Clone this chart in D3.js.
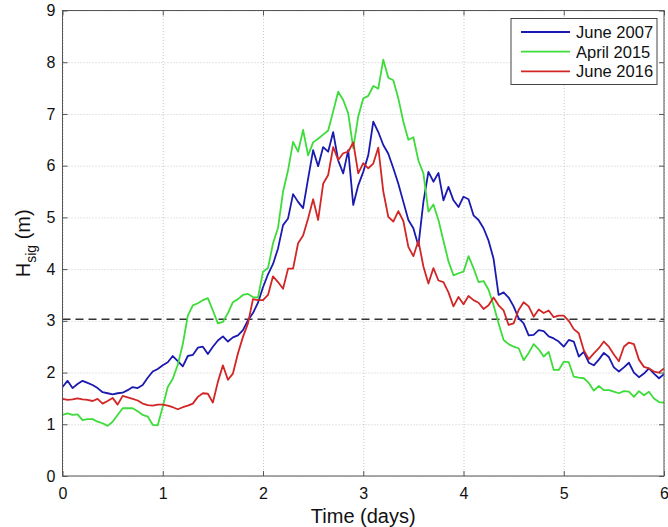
<!DOCTYPE html>
<html>
<head>
<meta charset="utf-8">
<script src="https://cdn.jsdelivr.net/npm/d3@7"></script>
<style type="text/css">
  body{
    background: white;
    margin: 0px;
  }
  svg{
    display: block;
    font-family: Arial, 'Liberation Sans', Helvetica, sans-serif;
  }
  .grid line{
    stroke: #c8c8c8;
    stroke-dasharray: 1,2;
  }
  .grid path{
    stroke: none;
  }
  .axis path{
    stroke: none;
  }
  .axis line{
    stroke: #555;
  }
  .axis text{
    fill: #111;
    font-size: 16px;
  }
</style>
</head>
<body>

<script>

// time in days, one sample every 0.05 day
var days = [
  0.00,0.05,0.10,0.15,0.20,0.25,0.30,0.35,0.40,0.45,0.50,0.55,0.60,0.65,0.70,0.75,0.80,0.85,0.90,0.95,
  1.00,1.05,1.10,1.15,1.20,1.25,1.30,1.35,1.40,1.45,1.50,1.55,1.60,1.65,1.70,1.75,1.80,1.85,1.90,1.95,
  2.00,2.05,2.10,2.15,2.20,2.25,2.30,2.35,2.40,2.45,2.50,2.55,2.60,2.65,2.70,2.75,2.80,2.85,2.90,2.95,
  3.00,3.05,3.10,3.15,3.20,3.25,3.30,3.35,3.40,3.45,3.50,3.55,3.60,3.65,3.70,3.75,3.80,3.85,3.90,3.95,
  4.00,4.05,4.10,4.15,4.20,4.25,4.30,4.35,4.40,4.45,4.50,4.55,4.60,4.65,4.70,4.75,4.80,4.85,4.90,4.95,
  5.00,5.05,5.10,5.15,5.20,5.25,5.30,5.35,5.40,5.45,5.50,5.55,5.60,5.65,5.70,5.75,5.80,5.85,5.90,5.95,
  6.00
];

var june2007 = [
  1.72,1.84,1.70,1.78,1.84,1.80,1.76,1.70,1.62,1.60,1.58,1.60,1.61,1.66,1.72,1.70,1.76,1.90,2.02,2.07,
  2.14,2.20,2.32,2.22,2.12,2.32,2.34,2.48,2.50,2.36,2.50,2.62,2.70,2.60,2.68,2.72,2.82,3.01,3.15,3.35,
  3.65,3.90,4.10,4.40,4.85,4.98,5.45,5.30,5.18,5.75,6.30,5.99,6.36,6.27,6.65,6.10,5.85,6.30,5.24,5.62,
  5.88,6.20,6.85,6.65,6.40,6.23,5.95,5.65,5.30,4.95,4.79,4.45,5.30,5.88,5.69,5.86,5.33,5.59,5.33,5.20,
  5.40,5.35,5.04,4.95,4.79,4.55,4.20,3.50,3.55,3.45,3.28,3.05,2.95,2.72,2.73,2.82,2.80,2.70,2.66,2.60,
  2.50,2.63,2.60,2.31,2.40,2.19,2.14,2.25,2.38,2.30,2.10,2.02,2.10,2.19,2.00,1.91,1.98,2.08,1.98,1.89,
  1.97
];

var april2015 = [
  1.18,1.21,1.18,1.19,1.08,1.10,1.10,1.05,1.02,0.97,1.05,1.18,1.31,1.31,1.31,1.25,1.18,1.15,0.99,0.98,
  1.34,1.72,1.88,2.15,2.55,3.10,3.30,3.34,3.40,3.44,3.20,2.95,2.98,3.15,3.36,3.42,3.50,3.52,3.46,3.45,
  3.95,4.02,4.50,4.80,5.50,5.91,6.46,6.27,6.69,6.20,6.45,6.52,6.60,6.68,7.05,7.43,7.27,7.01,6.34,6.95,
  7.30,7.35,7.54,7.49,8.05,7.70,7.65,7.30,6.85,6.50,6.55,6.10,5.85,5.11,5.25,4.95,4.55,4.15,3.88,3.92,
  3.95,4.25,4.02,3.75,3.77,3.60,3.30,2.95,2.63,2.55,2.50,2.47,2.24,2.38,2.55,2.45,2.31,2.40,2.05,2.05,
  2.21,2.20,1.92,1.90,1.89,1.80,1.65,1.74,1.66,1.66,1.63,1.60,1.64,1.63,1.53,1.64,1.56,1.63,1.50,1.43,
  1.42
];

var june2016 = [
  1.49,1.47,1.48,1.50,1.48,1.47,1.45,1.49,1.40,1.45,1.51,1.38,1.55,1.52,1.49,1.46,1.40,1.37,1.36,1.38,
  1.38,1.36,1.33,1.29,1.33,1.36,1.40,1.53,1.60,1.59,1.42,1.82,2.14,1.86,1.98,2.37,2.69,2.95,3.42,3.40,
  3.40,3.50,3.86,3.75,3.62,4.01,4.01,4.50,4.65,4.98,5.35,4.95,5.65,5.82,6.36,6.11,6.24,6.27,6.45,5.85,
  6.05,5.95,6.04,6.35,5.50,5.01,4.92,5.12,4.93,4.43,4.25,4.55,4.05,3.72,4.02,3.78,3.75,3.55,3.28,3.46,
  3.32,3.48,3.40,3.35,3.23,3.30,3.45,3.30,3.20,2.92,2.95,3.21,3.36,3.28,3.08,3.22,3.15,3.20,3.07,3.10,
  3.10,3.00,2.84,2.76,2.43,2.26,2.37,2.47,2.60,2.50,2.35,2.22,2.50,2.58,2.55,2.25,2.11,2.08,2.02,2.00,
  2.08
];

var threshold = 3.03;

var seriesNames = ['June 2007', 'April 2015', 'June 2016'];
var seriesColors = ['#1a1ab0', '#3ddc3a', '#d22626'];
var seriesValues = [june2007, april2015, june2016];

var xTicks = [0, 1, 2, 3, 4, 5, 6];
var yTicks = [0, 1, 2, 3, 4, 5, 6, 7, 8, 9];


var width = 668;
var height = 527;
var margin = {left: 62.5, right: 4, top: 10.5, bottom: 51};
var w = width - margin.left - margin.right;
var h = height - margin.top - margin.bottom;

var x = d3.scaleLinear().domain([0, 6]).range([0, w]);
var y = d3.scaleLinear().domain([0, 9]).range([h, 0]);

var svg = d3.select('body')
  .append('svg')
  .attr('width', width)
  .attr('height', height);

var g = svg.append('g')
  .attr('transform', 'translate(' + margin.left + ',' + margin.top + ')');

// dotted grid
g.append('g')
  .attr('class', 'grid')
  .attr('transform', 'translate(0,' + h + ')')
  .call(d3.axisBottom(x).tickValues(xTicks).tickSize(-h).tickFormat(''));

g.append('g')
  .attr('class', 'grid')
  .call(d3.axisLeft(y).tickValues(yTicks).tickSize(-w).tickFormat(''));

// threshold
g.append('line')
  .attr('x1', x(0))
  .attr('x2', x(6))
  .attr('y1', y(threshold))
  .attr('y2', y(threshold))
  .attr('stroke', '#333')
  .attr('stroke-width', 1.6)
  .attr('stroke-dasharray', '8,5');

var line = d3.line()
  .x(function(d, i) { return x(days[i]); })
  .y(function(d) { return y(d); });

seriesValues.forEach(function(vals, k) {
  g.append('path')
    .datum(vals)
    .attr('fill', 'none')
    .attr('stroke', seriesColors[k])
    .attr('stroke-width', 1.8)
    .attr('stroke-linejoin', 'round')
    .attr('d', line);
});

// axes, ticks pointing inward like matlab
g.append('g')
  .attr('class', 'axis')
  .attr('transform', 'translate(0,' + h + ')')
  .call(d3.axisBottom(x).tickValues(xTicks).tickSize(-5).tickPadding(12).tickFormat(d3.format('d')));

g.append('g')
  .attr('class', 'axis')
  .call(d3.axisTop(x).tickValues(xTicks).tickSize(-5).tickFormat(''));

g.append('g')
  .attr('class', 'axis')
  .call(d3.axisLeft(y).tickValues(yTicks).tickSize(-5).tickPadding(7).tickFormat(d3.format('d')));

g.append('g')
  .attr('class', 'axis')
  .attr('transform', 'translate(' + w + ',0)')
  .call(d3.axisRight(y).tickValues(yTicks).tickSize(-5).tickFormat(''));

g.append('rect')
  .attr('width', w)
  .attr('height', h)
  .attr('fill', 'none')
  .attr('stroke', '#555')
  .attr('stroke-width', 1);

// axis titles
svg.append('text')
  .attr('x', margin.left + w / 2)
  .attr('y', 523)
  .attr('text-anchor', 'middle')
  .attr('font-size', 20)
  .attr('fill', '#111')
  .text('Time (days)');

var ylab = svg.append('text')
  .attr('transform', 'translate(30,' + (margin.top + h / 2) + ') rotate(-90)')
  .attr('text-anchor', 'middle')
  .attr('font-size', 20)
  .attr('fill', '#111');
ylab.append('tspan').text('H');
ylab.append('tspan').attr('font-size', 14).attr('dy', 6).text('sig');
ylab.append('tspan').attr('dy', -6).text(' (m)');

// legend
var legend = svg.append('g')
  .attr('transform', 'translate(511,18.5)');

legend.append('rect')
  .attr('width', 146)
  .attr('height', 66)
  .attr('fill', 'white')
  .attr('stroke', '#444')
  .attr('stroke-width', 1);

seriesNames.forEach(function(name, k) {
  var ly = 13.5 + k * 19.7;
  legend.append('line')
    .attr('x1', 10)
    .attr('x2', 59)
    .attr('y1', ly)
    .attr('y2', ly)
    .attr('stroke', seriesColors[k])
    .attr('stroke-width', 1.8);
  legend.append('text')
    .attr('x', 65)
    .attr('y', ly + 6)
    .attr('font-size', 16.5)
    .attr('fill', '#111')
    .text(name);
});

</script>

</body>
</html>
